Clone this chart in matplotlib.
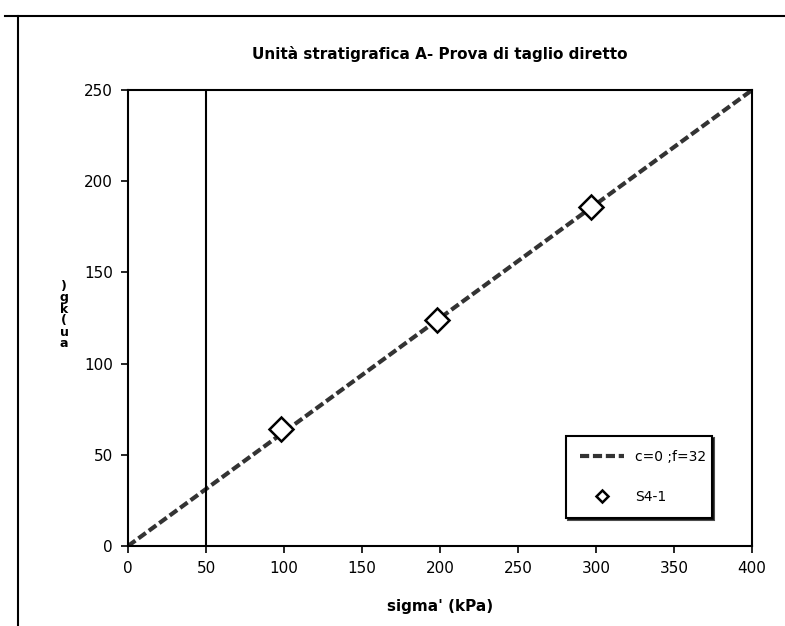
import numpy as np
import matplotlib
matplotlib.use('Agg')
import matplotlib.pyplot as plt
from matplotlib.lines import Line2D

plt.rcParams["font.family"] = 'DejaVu Sans'
plt.rcParams["font.size"] = 11

# dati della prova di taglio
sigma_pts = [98, 198, 297]
tau_pts = [64, 124, 186]
c_coes = 0
phi_deg = 32
sigma_line = [0, 400]
title_txt = "Unità stratigrafica A- Prova di taglio diretto"
xlab = "sigma' (kPa)"
line_lab = "c=0 ;f=32"
pts_lab = "S4-1"
xticks = [0, 50, 100, 150, 200, 250, 300, 350, 400]
yticks = [0, 50, 100, 150, 200, 250]

tau_line = [c_coes + s * np.tan(np.radians(phi_deg)) for s in sigma_line]

fig = plt.figure(figsize=(7.85, 6.26), dpi=100)
ax = fig.add_axes([128/785, 1 - 546/626, 624/785, 456/626])

ax.plot(sigma_line, tau_line, c='#333333', linestyle=(0, (2.2, 0.9)), linewidth=3, label=line_lab)
ax.plot(sigma_pts, tau_pts, linestyle='none', marker='D', markersize=12,
        markerfacecolor='white', markeredgecolor='black', markeredgewidth=1.8, label=pts_lab)
ax.axvline(50, c='black', linewidth=1.5)

ax.set_xlim(0, 400)
ax.set_ylim(0, 250)
ax.set_xticks(xticks)
ax.set_yticks(yticks)
ax.tick_params(direction='out', length=5, width=1.2, labelsize=11, pad=6)
for s in ax.spines.values():
    s.set_linewidth(1.5)

ax.set_title(title_txt, fontweight='bold', fontsize=11, pad=22)
ax.set_xlabel(xlab, fontweight='bold', fontsize=11, labelpad=16)
# etichetta y come appare nel documento originale (caratteri impilati)
fig.text(64/785, 1 - 315/626, ")\ng\nk\n(\nu\na", fontweight='bold', fontsize=9,
         ha='center', va='center', linespacing=0.85)

leg = ax.legend(loc='lower left', bbox_to_anchor=(0.702, 0.061, 0.234, 0.18), mode='expand',
                borderaxespad=0, frameon=True, fancybox=False, edgecolor='black', fontsize=10,
                handlelength=3.2, labelspacing=1.9, borderpad=1.0, markerscale=0.5,
                shadow={'ox': 1.2, 'oy': -1.2, 'color': 'black', 'alpha': 0.7}, framealpha=1)
leg.get_frame().set_linewidth(1.5)

# cornice della pagina
fig.add_artist(Line2D([5/785, 1], [1 - 16/626, 1 - 16/626], color='black', linewidth=1.5))
fig.add_artist(Line2D([18/785, 18/785], [0, 1 - 16/626], color='black', linewidth=1.5))

plt.savefig('out.png', dpi=100)
